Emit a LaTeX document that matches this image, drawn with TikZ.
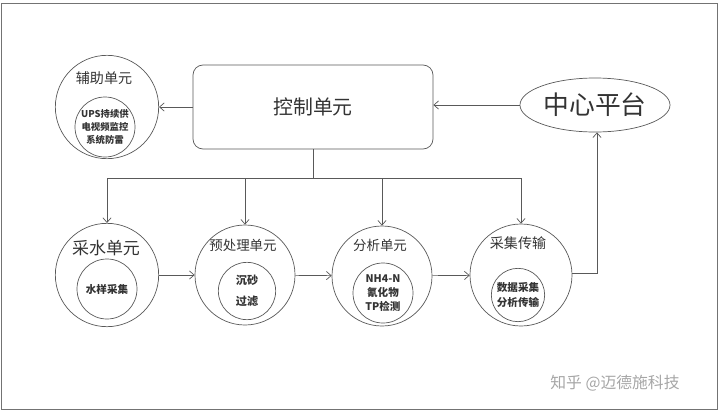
\documentclass[tikz,border=0pt]{standalone}
\usepackage{fontspec}
\setmainfont{Noto Sans CJK SC}
\usetikzlibrary{positioning,arrows.meta,shapes.geometric}

\begin{document}
\begin{tikzpicture}[x=0.03cm, y=-0.03cm, >={Straight Barb[length=4pt,width=7pt]},
      line width=0.6pt, draw=black!65, text=black!80,
      unit/.style={draw=black!65, circle, inner sep=0pt, minimum size=3.1cm},
      core/.style={draw=black!65, circle, inner sep=-4pt, minimum size=1.8cm, align=center, font=\bfseries\fontsize{9}{12}\selectfont},
      ttl/.style={inner sep=0pt, font=\fontsize{11.5}{13}\selectfont}]
      \useasboundingbox (0,0) rectangle (720,413);
      \draw[black!55] (1,3) rectangle (717,409);
      % top row
      \node[draw=black!65, rounded corners=0.3cm, minimum width=7.2cm, minimum height=2.52cm, font=\fontsize{17}{20}\selectfont] (ctrl) at (313,107) {控制单元};
      \node[draw=black!65, ellipse, inner sep=0pt, minimum width=4.5cm, minimum height=1.62cm, font=\fontsize{22}{26}\selectfont] (plat) at (595,105) {中心平台};
      \node[unit] (aux) at (107,107) {};
      \node[ttl, font=\fontsize{12}{14}\selectfont] (auxt) at (104,78) {辅助单元};
      \node[core, font=\bfseries\fontsize{8}{11}\selectfont] (auxc) at (105,127) {UPS持续供\\电视频监控\\系统防雷};
      % bottom row
      \node[unit] (water) at (107,275) {};
      \node[ttl, font=\fontsize{14.5}{16}\selectfont] (watert) at (106,248) {采水单元};
      \node[core] (waterc) at (107,289) {水样采集};
      \node[unit, minimum size=3.0cm] (pre) at (245,275) {};
      \node[ttl] (pret) at (243,245) {预处理单元};
      \node[core, minimum size=1.72cm, font=\bfseries\fontsize{9.5}{18}\selectfont] (prec) at (247,291) {沉砂\\过滤};
      \node[unit, minimum size=3.0cm] (ana) at (382,276) {};
      \node[ttl] (anat) at (380,245) {分析单元};
      \node[core] (anac) at (383,293) {NH4-N\\氰化物\\TP检测};
      \node[unit, minimum size=3.06cm] (trans) at (521,275) {};
      \node[ttl, font=\fontsize{12}{14}\selectfont] (transt) at (518,243) {采集传输};
      \node[core, minimum size=1.6cm] (transc) at (518,295) {数据采集\\分析传输};
      \node[text=black!35, font=\fontsize{13.5}{16}\selectfont] (mark) at (615,383) {知乎 @迈德施科技};
      % connectors
      \coordinate (bus) at (313,178);
      \coordinate (up) at (597,273);
      \draw[->] (plat.west) -- (plat.west -| ctrl.east);
      \draw[->] (ctrl.west) -- (aux);
      \draw (ctrl.south) -- (bus);
      \draw (bus -| water) -- (bus -| trans);
      \foreach \u in {water,pre,ana,trans} \draw[->] (bus -| \u) -- (\u.north);
      \draw[->] (water) -- (pre); \draw[->] (pre) -- (ana); \draw[->] (ana) -- (trans);
      \draw[->] (trans.east |- up) -- (up) -- (up |- plat.south);
    \end{tikzpicture}
\end{document}
